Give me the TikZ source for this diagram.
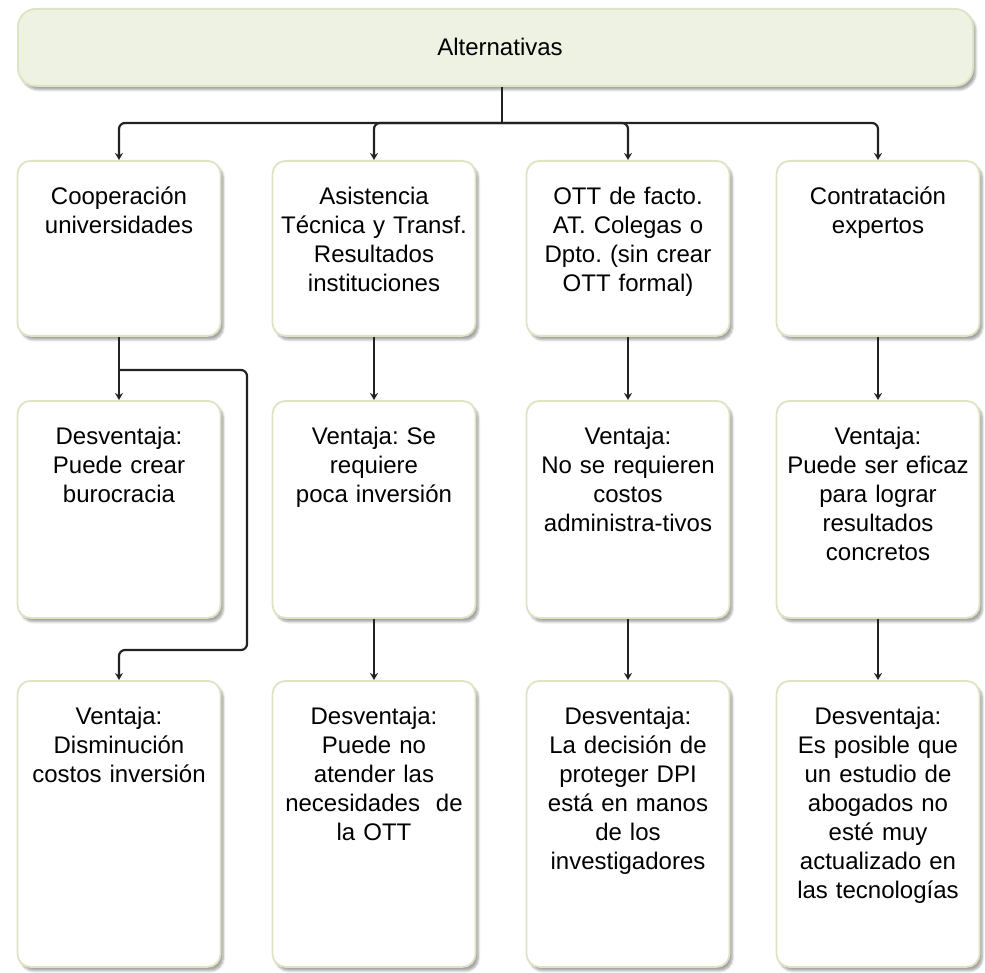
\documentclass[tikz,border=0pt]{standalone}
\usepackage{fontspec}
\setmainfont{Liberation Sans}
\frenchspacing
\usetikzlibrary{arrows.meta,shadows.blur}
\definecolor{boxedge}{HTML}{DDE4C3}
\definecolor{topfill}{HTML}{EEF2E2}
\definecolor{conncol}{HTML}{222222}
\begin{document}
\begin{tikzpicture}[x=1pt,y=-1pt,
  box/.style={draw=boxedge, line width=1.8pt, fill=white, rounded corners=13pt,
    minimum width=203pt, anchor=north, inner sep=0pt,
    blur shadow={shadow xshift=3pt, shadow yshift=-4pt, shadow blur steps=6, shadow opacity=35}},
  txt/.style={anchor=north, align=center, text width=200pt, inner sep=0pt,
    font=\fontsize{24}{29}\selectfont, execute at begin node=\strut},
  conn/.style={draw=conncol, line width=2.2pt, rounded corners=6pt},
  arr/.style={conn, -{Stealth[length=7pt,width=8pt]}}
]
\useasboundingbox (0,0) rectangle (985,973);

% top box
\node[box, fill=topfill, rounded corners=18pt, minimum width=955pt, minimum height=77pt, anchor=north west] (top) at (17,8) {};
\node[anchor=center, inner sep=0pt, font=\fontsize{24}{29}\selectfont] (ttop) at (500,47) {Alternativas};

% row 1
\node[box, minimum height=175pt] (b11) at (119,160) {};
\node[box, minimum height=175pt] (b12) at (374,160) {};
\node[box, minimum height=175pt] (b13) at (628,160) {};
\node[box, minimum height=175pt] (b14) at (878,160) {};
\node[txt] (t11) at (119,184) {Cooperación\\universidades};
\node[txt] (t12) at (374,184) {Asistencia\\Técnica y Transf.\\Resultados\\instituciones};
\node[txt] (t13) at (628,184) {OTT de facto.\\AT. Colegas o\\Dpto. (sin crear\\OTT formal)};
\node[txt] (t14) at (878,184) {Contratación\\expertos};

% row 2
\node[box, minimum height=217pt] (b21) at (119,400) {};
\node[box, minimum height=217pt] (b22) at (374,400) {};
\node[box, minimum height=217pt] (b23) at (628,400) {};
\node[box, minimum height=217pt] (b24) at (878,400) {};
\node[txt] (t21) at (119,424) {Desventaja:\\Puede crear\\burocracia};
\node[txt] (t22) at (374,424) {Ventaja: Se\\requiere\\poca inversión};
\node[txt] (t23) at (628,424) {Ventaja:\\No se requieren\\costos\\administra-tivos};
\node[txt] (t24) at (878,424) {Ventaja:\\Puede ser eficaz\\para lograr\\resultados\\concretos};

% row 3
\node[box, minimum height=286pt] (b31) at (119,680) {};
\node[box, minimum height=286pt] (b32) at (374,680) {};
\node[box, minimum height=286pt] (b33) at (628,680) {};
\node[box, minimum height=286pt] (b34) at (878,680) {};
\node[txt] (t31) at (119,704) {Ventaja:\\Disminución\\costos inversión};
\node[txt] (t32) at (374,704) {Desventaja:\\Puede no\\atender las\\necesidades\ \ de\\la OTT};
\node[txt] (t33) at (628,704) {Desventaja:\\La decisión de\\proteger DPI\\está en manos\\de los\\investigadores};
\node[txt] (t34) at (878,704) {Desventaja:\\Es posible que\\un estudio de\\abogados no\\esté muy\\actualizado en\\las tecnologías};

% connectors
\coordinate (hub) at (502,123);
\draw[conn] (top.south -| hub) -- (hub);
\draw[arr] (hub) -| (b11.north);
\draw[arr] (hub) -| (b12.north);
\draw[arr] (hub) -| (b13.north);
\draw[arr] (hub) -| (b14.north);

\draw[arr] (b11.south) -- (b21.north);
\draw[arr] (b12.south) -- (b22.north);
\draw[arr] (b13.south) -- (b23.north);
\draw[arr] (b14.south) -- (b24.north);
\draw[arr] (b22.south) -- (b32.north);
\draw[arr] (b23.south) -- (b33.north);
\draw[arr] (b24.south) -- (b34.north);

\coordinate (lp1) at (247,370);
\coordinate (lp2) at (247,650);
\draw[arr] (b11.south |- lp1) -- (lp1) -- (lp2) -- (lp2 -| b31.north) -- (b31.north);
\end{tikzpicture}
\end{document}
